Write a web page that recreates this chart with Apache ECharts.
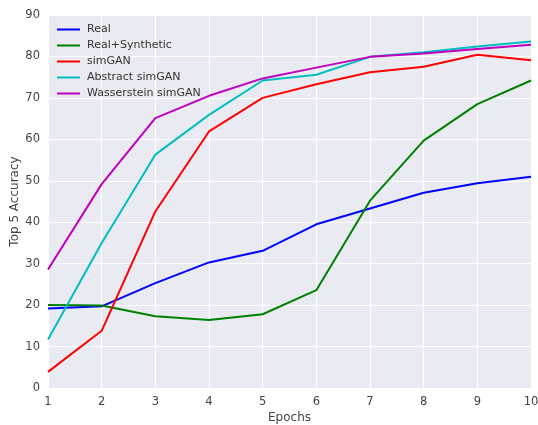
<!DOCTYPE html>
<html>
<head>
<meta charset="utf-8">
<script src="https://cdn.jsdelivr.net/npm/echarts@6/dist/echarts.min.js"></script>
<style>
	html, body { margin: 0; padding: 0; background: #fff; }
	#chart { width: 538px; height: 425px; }
</style>
</head>
<body>
<div id="chart"></div>
<script>
const epochs = [1, 2, 3, 4, 5, 6, 7, 8, 9, 10]
const real = [19.2, 19.7, 25.3, 30.3, 33.1, 39.5, 43.3, 47.1, 49.4, 51.0]
const realSynthetic = [20.0, 19.9, 17.3, 16.4, 17.8, 23.6, 45.2, 59.7, 68.5, 74.2]
const simGAN = [3.9, 13.8, 42.6, 61.9, 70.0, 73.3, 76.2, 77.5, 80.4, 79.1]
const abstractSimGAN = [11.7, 35.0, 56.3, 65.9, 74.2, 75.6, 79.9, 81.0, 82.4, 83.6]
const wassersteinSimGAN = [28.6, 49.2, 65.1, 70.5, 74.7, 77.3, 79.9, 80.7, 81.8, 82.8]

const names = ['Real', 'Real+Synthetic', 'simGAN', 'Abstract simGAN', 'Wasserstein simGAN']
const values = [real, realSynthetic, simGAN, abstractSimGAN, wassersteinSimGAN]
const colors = ['#0000ff', '#008000', '#ff0000', '#00bfbf', '#bf00bf']

const chart = echarts.init(document.getElementById('chart'))

const series = names.map((name, i) => {
	return {
		name: name,
		type: 'line',
		data: epochs.map((e, j) => [e, values[i][j]]),
		showSymbol: false,
		symbol: 'none',
		lineStyle: { width: 2, color: colors[i] },
		itemStyle: { color: colors[i] },
		z: 3 + i
	}
})

chart.setOption({
	animation: false,
	textStyle: { fontFamily: 'DejaVu Sans' },
	grid: {
		left: 48, right: 7, top: 15, bottom: 37,
		containLabel: false,
		outerBoundsMode: 'none',
		show: true,
		backgroundColor: '#eaeaf2',
		borderWidth: 0
	},
	legend: {
		orient: 'vertical',
		left: 52, top: 19,
		itemWidth: 23, itemHeight: 2,
		itemGap: 5,
		icon: 'rect',
		textStyle: { fontSize: 11, color: '#333', fontFamily: 'DejaVu Sans', padding: [0, 0, 0, 2] },
		data: names
	},
	xAxis: {
		type: 'value',
		min: 1, max: 10, interval: 1,
		name: 'Epochs',
		nameLocation: 'middle',
		nameMoveOverlap: false,
		nameGap: 24,
		nameTextStyle: { fontSize: 12, color: '#444' },
		axisLine: { show: false },
		axisTick: { show: false },
		axisLabel: { fontSize: 11.5, color: '#444', margin: 8 },
		splitLine: { show: true, lineStyle: { color: '#ffffff', width: 1 } }
	},
	yAxis: {
		type: 'value',
		min: 0, max: 90, interval: 10,
		name: 'Top 5 Accuracy',
		nameLocation: 'middle',
		nameMoveOverlap: false,
		nameGap: 27,
		nameTextStyle: { fontSize: 12, color: '#444' },
		axisLine: { show: false },
		axisTick: { show: false },
		axisLabel: { fontSize: 11.5, color: '#444', margin: 8 },
		splitLine: { show: true, lineStyle: { color: '#ffffff', width: 1 } }
	},
	series: series
})
</script>
</body>
</html>
